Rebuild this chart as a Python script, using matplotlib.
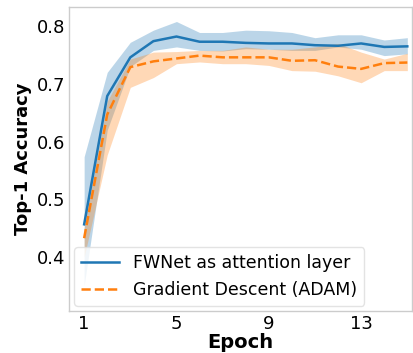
import matplotlib
matplotlib.use("Agg")
import matplotlib.pyplot as plt
import numpy as np

epochs = list(range(1, 16))
fw_mean = [0.457, 0.679, 0.746, 0.774, 0.782, 0.773, 0.773, 0.771, 0.770, 0.770, 0.767, 0.766, 0.770, 0.764, 0.765]
fw_upper = [0.574, 0.720, 0.772, 0.793, 0.808, 0.789, 0.789, 0.793, 0.792, 0.789, 0.780, 0.785, 0.785, 0.776, 0.780]
fw_lower = [0.351, 0.620, 0.730, 0.758, 0.764, 0.758, 0.757, 0.761, 0.760, 0.758, 0.758, 0.764, 0.760, 0.749, 0.752]
gd_mean = [0.433, 0.647, 0.729, 0.739, 0.744, 0.749, 0.746, 0.746, 0.746, 0.740, 0.741, 0.730, 0.726, 0.736, 0.737]
gd_upper = [0.450, 0.670, 0.743, 0.755, 0.756, 0.758, 0.758, 0.764, 0.760, 0.760, 0.764, 0.770, 0.755, 0.743, 0.753]
gd_lower = [0.400, 0.577, 0.694, 0.711, 0.735, 0.738, 0.735, 0.735, 0.732, 0.723, 0.722, 0.714, 0.702, 0.723, 0.723]
xticks = [1, 5, 9, 13]
yticks = [0.4, 0.5, 0.6, 0.7, 0.8]

fig = plt.figure(figsize=(4.14, 3.53), dpi=100)
ax = fig.add_axes([0.167, 0.119, 0.828, 0.861])

blue = "#1f77b4"
orange = "#ff7f0e"
ax.fill_between(epochs, fw_lower, fw_upper, color=blue, alpha=0.3, linewidth=0)
ax.fill_between(epochs, gd_lower, gd_upper, color=orange, alpha=0.3, linewidth=0)
ax.plot(epochs, fw_mean, color=blue, lw=1.8, label="FWNet as attention layer")
ax.plot(epochs, gd_mean, color=orange, lw=1.8, ls="--", label="Gradient Descent (ADAM)")

ax.set_xlim(0.35, 15.2)
ax.set_ylim(0.307, 0.833)
ax.set_xticks(xticks)
ax.set_xticklabels([str(t) for t in xticks])
ax.set_yticks(yticks)
ax.set_yticklabels([f"{t:.1f}" for t in yticks])
ax.tick_params(length=0, labelsize=13, pad=3)
for s in ax.spines.values():
    s.set_color("#cccccc")
    s.set_linewidth(1)
ax.set_xlabel("Epoch", fontsize=14, fontweight="bold", labelpad=0)
ax.set_ylabel("Top-1 Accuracy", fontsize=13, fontweight="bold", labelpad=3)
leg = ax.legend(loc="lower left", fontsize=12.5, frameon=True, handlelength=2.2,
                borderaxespad=0.3)
leg.get_frame().set_edgecolor("#dddddd")

fig.savefig("out.png", dpi=100)
